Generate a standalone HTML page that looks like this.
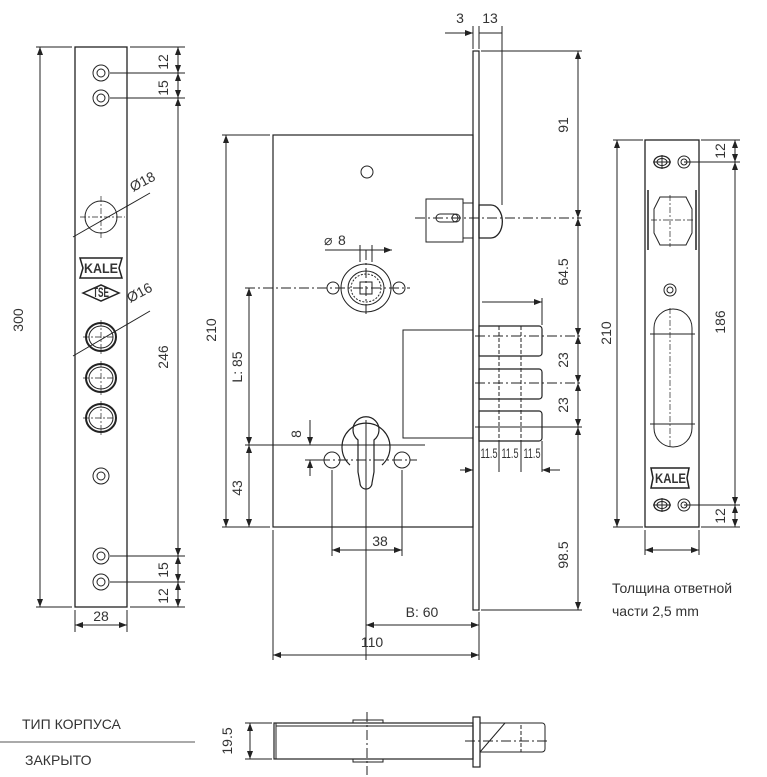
<!DOCTYPE html>
<html><head><meta charset="utf-8"><style>
html,body{margin:0;padding:0;background:#fff;}
svg{display:block;font-family:"Liberation Sans",sans-serif;}
text{fill:#333;font-size:14px;}
</style></head><body>
<svg width="767" height="777" viewBox="0 0 767 777" xmlns="http://www.w3.org/2000/svg">
<defs>
<marker id="a" markerWidth="8" markerHeight="6" refX="8" refY="3" orient="auto-start-reverse" markerUnits="userSpaceOnUse"><path d="M0,0 L8,3 L0,6 z" fill="#222"/></marker>
</defs>
<g stroke="#222" stroke-width="1" fill="none">
<rect x="75" y="47" width="52" height="560" stroke-width="1.3"/>
<line x1="36" y1="47" x2="72" y2="47"/><line x1="36" y1="607" x2="72" y2="607"/>
<line x1="40" y1="47" x2="40" y2="607" marker-start="url(#a)" marker-end="url(#a)"/>
<line x1="130" y1="47" x2="185" y2="47"/><line x1="130" y1="607" x2="185" y2="607"/>
<line x1="110" y1="73" x2="185" y2="73"/><line x1="110" y1="98" x2="185" y2="98"/>
<line x1="110" y1="556" x2="185" y2="556"/><line x1="110" y1="582" x2="185" y2="582"/>
<line x1="178" y1="47" x2="178" y2="73" marker-start="url(#a)" marker-end="url(#a)"/>
<line x1="178" y1="73" x2="178" y2="98" marker-start="url(#a)" marker-end="url(#a)"/>
<line x1="178" y1="98" x2="178" y2="556" marker-start="url(#a)" marker-end="url(#a)"/>
<line x1="178" y1="556" x2="178" y2="582" marker-start="url(#a)" marker-end="url(#a)"/>
<line x1="178" y1="582" x2="178" y2="607" marker-start="url(#a)" marker-end="url(#a)"/>
<line x1="75" y1="610" x2="75" y2="632"/><line x1="127" y1="610" x2="127" y2="632"/>
<line x1="75" y1="625" x2="127" y2="625" marker-start="url(#a)" marker-end="url(#a)"/>
<g>
<circle cx="101" cy="73" r="8"/><circle cx="101" cy="73" r="4"/>
<circle cx="101" cy="98" r="8"/><circle cx="101" cy="98" r="4"/>
<circle cx="101" cy="476" r="8"/><circle cx="101" cy="476" r="4"/>
<circle cx="101" cy="556" r="8"/><circle cx="101" cy="556" r="4"/>
<circle cx="101" cy="582" r="8"/><circle cx="101" cy="582" r="4"/>
<circle cx="101" cy="217" r="16"/>
<ellipse cx="101" cy="337" rx="15" ry="14" stroke-width="2"/><ellipse cx="101" cy="337" rx="12" ry="11"/>
<ellipse cx="101" cy="378" rx="15" ry="14" stroke-width="2"/><ellipse cx="101" cy="378" rx="12" ry="11"/>
<ellipse cx="101" cy="418" rx="15" ry="14" stroke-width="2"/><ellipse cx="101" cy="418" rx="12" ry="11"/>
</g>
<g stroke-dasharray="6,2,2,2" stroke-width="0.7">
<line x1="80" y1="217" x2="125" y2="217"/><line x1="101" y1="196" x2="101" y2="238"/>
<line x1="83" y1="337" x2="119" y2="337"/><line x1="101" y1="320" x2="101" y2="354"/>
<line x1="83" y1="378" x2="119" y2="378"/><line x1="101" y1="361" x2="101" y2="395"/>
<line x1="83" y1="418" x2="119" y2="418"/><line x1="101" y1="401" x2="101" y2="435"/>
</g>
<line x1="73" y1="237" x2="150" y2="193"/>
<line x1="73" y1="356" x2="150" y2="311"/>
<path d="M80,258 h42 l-3,10 3,10 h-42 l3,-10z" stroke-width="1.5"/>
<path d="M83,293 l18,-8 18,8 -18,8z" stroke-width="1.5"/>
<rect x="273" y="135" width="200" height="392" stroke-width="1.2"/>
<rect x="473" y="51" width="6" height="559" stroke-width="1.2"/>
<line x1="473" y1="26" x2="473" y2="49"/><line x1="479" y1="26" x2="479" y2="49"/><line x1="502" y1="26" x2="502" y2="205"/>
<line x1="445" y1="33" x2="473" y2="33" marker-end="url(#a)"/>
<line x1="479" y1="33" x2="502" y2="33"/>
<line x1="481" y1="51" x2="582" y2="51"/><line x1="481" y1="610" x2="582" y2="610"/>
<line x1="578" y1="51" x2="578" y2="218" marker-start="url(#a)" marker-end="url(#a)"/>
<line x1="578" y1="218" x2="578" y2="336" marker-start="url(#a)" marker-end="url(#a)"/>
<line x1="578" y1="336" x2="578" y2="383" marker-start="url(#a)" marker-end="url(#a)"/>
<line x1="578" y1="383" x2="578" y2="427" marker-start="url(#a)" marker-end="url(#a)"/>
<line x1="578" y1="427" x2="578" y2="610" marker-start="url(#a)" marker-end="url(#a)"/>
<circle cx="367" cy="172" r="6"/>
<rect x="426" y="199" width="37" height="43"/>
<rect x="463" y="203" width="10" height="35"/>
<path d="M440,214 h14 a4,4 0 0 1 0,8 h-14 a4,4 0 0 1 0,-8z"/>
<circle cx="456" cy="218" r="4"/>
<path d="M479,205 h12 a11,16 0 0 1 0,33 h-12z" stroke-width="1.3"/>
<line x1="415" y1="218" x2="582" y2="218" stroke-dasharray="10,3,2,3"/>
<ellipse cx="366" cy="288" rx="25" ry="24"/>
<ellipse cx="366" cy="288" rx="18" ry="17"/>
<ellipse cx="366" cy="288" rx="15" ry="14" stroke-dasharray="2,1.5"/>
<rect x="360" y="282" width="12" height="12"/>
<circle cx="333" cy="288" r="6"/><circle cx="399" cy="288" r="6"/>
<line x1="360" y1="245" x2="360" y2="262"/><line x1="372" y1="245" x2="372" y2="262"/>
<line x1="325" y1="250" x2="392" y2="250" marker-end="url(#a)"/>
<line x1="245" y1="288" x2="410" y2="288" stroke-dasharray="10,3,2,3"/>
<line x1="366" y1="250" x2="366" y2="316" stroke-dasharray="10,3,2,3"/>
<line x1="245" y1="445" x2="425" y2="445"/>
<line x1="249" y1="288" x2="249" y2="445" marker-start="url(#a)" marker-end="url(#a)"/>
<line x1="249" y1="445" x2="249" y2="527" marker-start="url(#a)" marker-end="url(#a)"/>
<line x1="222" y1="135" x2="270" y2="135"/><line x1="222" y1="527" x2="270" y2="527"/>
<line x1="226" y1="135" x2="226" y2="527" marker-start="url(#a)" marker-end="url(#a)"/>
<path d="M350,465 A24,24 0 1 1 382,465" stroke-width="1.2"/>
<path d="M358,472 L358,440 A13,13 0 1 1 374,440 L374,472 L372,483 A6,6 0 0 1 360,483z" stroke-width="1.2"/>
<circle cx="332" cy="460" r="8"/><circle cx="402" cy="460" r="8"/>
<line x1="320" y1="460" x2="417" y2="460" stroke-dasharray="10,3,2,3"/>
<line x1="366" y1="420" x2="366" y2="660"/>
<line x1="332" y1="470" x2="332" y2="556"/><line x1="402" y1="470" x2="402" y2="556"/>
<line x1="332" y1="550" x2="402" y2="550" marker-start="url(#a)" marker-end="url(#a)"/>
<line x1="310" y1="420" x2="310" y2="445" marker-end="url(#a)"/>
<line x1="310" y1="476" x2="310" y2="460" marker-end="url(#a)"/>
<line x1="305" y1="460" x2="325" y2="460"/>
<line x1="366" y1="625" x2="479" y2="625" marker-start="url(#a)" marker-end="url(#a)"/>
<line x1="273" y1="530" x2="273" y2="660"/><line x1="479" y1="612" x2="479" y2="660"/>
<line x1="273" y1="655" x2="479" y2="655" marker-start="url(#a)" marker-end="url(#a)"/>
<rect x="403" y="330" width="70" height="108"/>
<path d="M479,326 h60 a3,3 0 0 1 3,3 v24 a3,3 0 0 1 -3,3 h-60z" stroke-width="1.2"/>
<path d="M479,369 h60 a3,3 0 0 1 3,3 v24 a3,3 0 0 1 -3,3 h-60z" stroke-width="1.2"/>
<path d="M479,411 h60 a3,3 0 0 1 3,3 v24 a3,3 0 0 1 -3,3 h-60z" stroke-width="1.2"/>
<g stroke-dasharray="4,2">
<line x1="499" y1="326" x2="499" y2="441"/><line x1="521" y1="326" x2="521" y2="441"/>
</g>
<line x1="475" y1="336" x2="582" y2="336" stroke-dasharray="10,3,2,3"/>
<line x1="475" y1="383" x2="582" y2="383" stroke-dasharray="10,3,2,3"/>
<line x1="475" y1="427" x2="582" y2="427"/>
<line x1="482" y1="302" x2="542" y2="302" marker-end="url(#a)"/><line x1="542" y1="298" x2="542" y2="325"/>
<line x1="499" y1="441" x2="499" y2="472"/><line x1="521" y1="441" x2="521" y2="472"/><line x1="542" y1="441" x2="542" y2="472"/>
<line x1="460" y1="470" x2="473" y2="470" marker-end="url(#a)"/><line x1="560" y1="470" x2="542" y2="470" marker-end="url(#a)"/>
<rect x="645" y="140" width="54" height="387" stroke-width="1.3"/>
<line x1="613" y1="140" x2="643" y2="140"/><line x1="613" y1="527" x2="643" y2="527"/>
<line x1="617" y1="140" x2="617" y2="527" marker-start="url(#a)" marker-end="url(#a)"/>
<line x1="701" y1="140" x2="740" y2="140"/><line x1="701" y1="527" x2="740" y2="527"/>
<line x1="684" y1="162" x2="740" y2="162"/><line x1="684" y1="505" x2="740" y2="505"/>
<line x1="735" y1="140" x2="735" y2="162" marker-start="url(#a)" marker-end="url(#a)"/>
<line x1="735" y1="162" x2="735" y2="505" marker-start="url(#a)" marker-end="url(#a)"/>
<line x1="735" y1="505" x2="735" y2="527" marker-start="url(#a)" marker-end="url(#a)"/>
<line x1="645" y1="530" x2="645" y2="555"/><line x1="699" y1="530" x2="699" y2="555"/>
<line x1="645" y1="550" x2="699" y2="550" marker-start="url(#a)" marker-end="url(#a)"/>
<ellipse cx="662" cy="162" rx="8" ry="6" stroke-width="1.3"/><ellipse cx="662" cy="162" rx="5" ry="3.5"/><line x1="653" y1="162" x2="671" y2="162"/><line x1="662" y1="155" x2="662" y2="169"/>
<circle cx="684" cy="162" r="6"/><circle cx="684" cy="162" r="3"/>
<ellipse cx="662" cy="505" rx="8" ry="6" stroke-width="1.3"/><ellipse cx="662" cy="505" rx="5" ry="3.5"/><line x1="653" y1="505" x2="671" y2="505"/><line x1="662" y1="498" x2="662" y2="512"/>
<circle cx="684" cy="505" r="6"/><circle cx="684" cy="505" r="3"/>
<path d="M660,197 h26 l6,12 v24 l-6,12 h-26 l-6,-12 v-24z"/>
<line x1="648" y1="190" x2="648" y2="250" stroke-width="1.5"/><line x1="696" y1="190" x2="696" y2="250" stroke-width="1.5"/>
<circle cx="670" cy="290" r="6"/><circle cx="670" cy="290" r="3"/>
<path d="M654,328 a19,19 0 0 1 38,0 v100 a19,19 0 0 1 -38,0z"/>
<line x1="650" y1="334" x2="695" y2="334"/><line x1="650" y1="424" x2="695" y2="424"/>
<g stroke-dasharray="6,2,2,2" stroke-width="0.7">
<line x1="670" y1="195" x2="670" y2="247"/><line x1="651" y1="220" x2="694" y2="220"/>
<line x1="670" y1="308" x2="670" y2="448"/>
</g>
<path d="M651,468 h38 l-2,10 2,10 h-38 l2,-10z" stroke-width="1.5"/>
<rect x="274" y="723" width="199" height="36" stroke-width="1.2"/>
<line x1="276" y1="726" x2="473" y2="726"/><line x1="276" y1="723" x2="276" y2="759"/>
<rect x="353" y="720" width="30" height="3"/><rect x="353" y="759" width="30" height="3"/>
<rect x="473" y="717" width="7" height="50" stroke-width="1.2"/>
<path d="M480,723 h62 a3,3 0 0 1 3,3 v23 a3,3 0 0 1 -3,3 h-62z"/>
<line x1="480" y1="752" x2="505" y2="723"/>
<line x1="521" y1="725" x2="521" y2="752" stroke-dasharray="4,2"/>
<line x1="367" y1="712" x2="367" y2="775" stroke-dasharray="10,3,2,3"/>
<line x1="465" y1="741" x2="550" y2="741" stroke-dasharray="10,3,2,3"/>
<line x1="245" y1="723" x2="272" y2="723"/><line x1="245" y1="759" x2="272" y2="759"/>
<line x1="250" y1="723" x2="250" y2="759" marker-start="url(#a)" marker-end="url(#a)"/>
<line x1="0" y1="742" x2="195" y2="742" stroke="#555"/>
</g>
<g>
<text x="23" y="320" transform="rotate(-90 23 320)" text-anchor="middle">300</text>
<text x="168" y="62" transform="rotate(-90 168 62)" text-anchor="middle">12</text>
<text x="168" y="88" transform="rotate(-90 168 88)" text-anchor="middle">15</text>
<text x="168" y="357" transform="rotate(-90 168 357)" text-anchor="middle">246</text>
<text x="168" y="570" transform="rotate(-90 168 570)" text-anchor="middle">15</text>
<text x="168" y="596" transform="rotate(-90 168 596)" text-anchor="middle">12</text>
<text x="101" y="621" text-anchor="middle">28</text>
<text x="133" y="192" transform="rotate(-28 133 192)">Ø18</text>
<text x="130" y="303" transform="rotate(-28 130 303)">Ø16</text>
<text x="84" y="273" font-size="11" font-weight="bold" textLength="34" lengthAdjust="spacingAndGlyphs">KALE</text>
<text x="93" y="297" font-size="7" font-weight="bold" textLength="16" lengthAdjust="spacingAndGlyphs">TSE</text>
<text x="460" y="23" text-anchor="middle">3</text>
<text x="490" y="23" text-anchor="middle">13</text>
<text x="216" y="330" transform="rotate(-90 216 330)" text-anchor="middle">210</text>
<text x="242" y="367" transform="rotate(-90 242 367)" text-anchor="middle">L: 85</text>
<text x="242" y="488" transform="rotate(-90 242 488)" text-anchor="middle">43</text>
<text x="301" y="434" transform="rotate(-90 301 434)" text-anchor="middle">8</text>
<text x="338" y="245">8</text>
<text x="324" y="245" font-size="11">⌀</text>
<text x="380" y="546" text-anchor="middle">38</text>
<text x="422" y="617" text-anchor="middle">B: 60</text>
<text x="372" y="647" text-anchor="middle">110</text>
<text x="568" y="125" transform="rotate(-90 568 125)" text-anchor="middle">91</text>
<text x="568" y="272" transform="rotate(-90 568 272)" text-anchor="middle">64.5</text>
<text x="568" y="360" transform="rotate(-90 568 360)" text-anchor="middle">23</text>
<text x="568" y="405" transform="rotate(-90 568 405)" text-anchor="middle">23</text>
<text x="568" y="555" transform="rotate(-90 568 555)" text-anchor="middle">98.5</text>
<text x="489" y="458" font-size="9" text-anchor="middle" textLength="17" lengthAdjust="spacingAndGlyphs">11.5</text>
<text x="510" y="458" font-size="9" text-anchor="middle" textLength="17" lengthAdjust="spacingAndGlyphs">11.5</text>
<text x="532" y="458" font-size="9" text-anchor="middle" textLength="17" lengthAdjust="spacingAndGlyphs">11.5</text>
<text x="611" y="333" transform="rotate(-90 611 333)" text-anchor="middle">210</text>
<text x="725" y="151" transform="rotate(-90 725 151)" text-anchor="middle">12</text>
<text x="725" y="322" transform="rotate(-90 725 322)" text-anchor="middle">186</text>
<text x="725" y="516" transform="rotate(-90 725 516)" text-anchor="middle">12</text>
<text x="655" y="483" font-size="11" font-weight="bold" textLength="31" lengthAdjust="spacingAndGlyphs">KALE</text>
<text x="612" y="593" font-size="14">Толщина ответной</text>
<text x="612" y="616" font-size="14">части  2,5 mm</text>
<text x="22" y="729" font-size="14">ТИП КОРПУСА</text>
<text x="25" y="765" font-size="14">ЗАКРЫТО</text>
<text x="232" y="741" transform="rotate(-90 232 741)" text-anchor="middle">19.5</text>
</g>
</svg>
</body></html>
